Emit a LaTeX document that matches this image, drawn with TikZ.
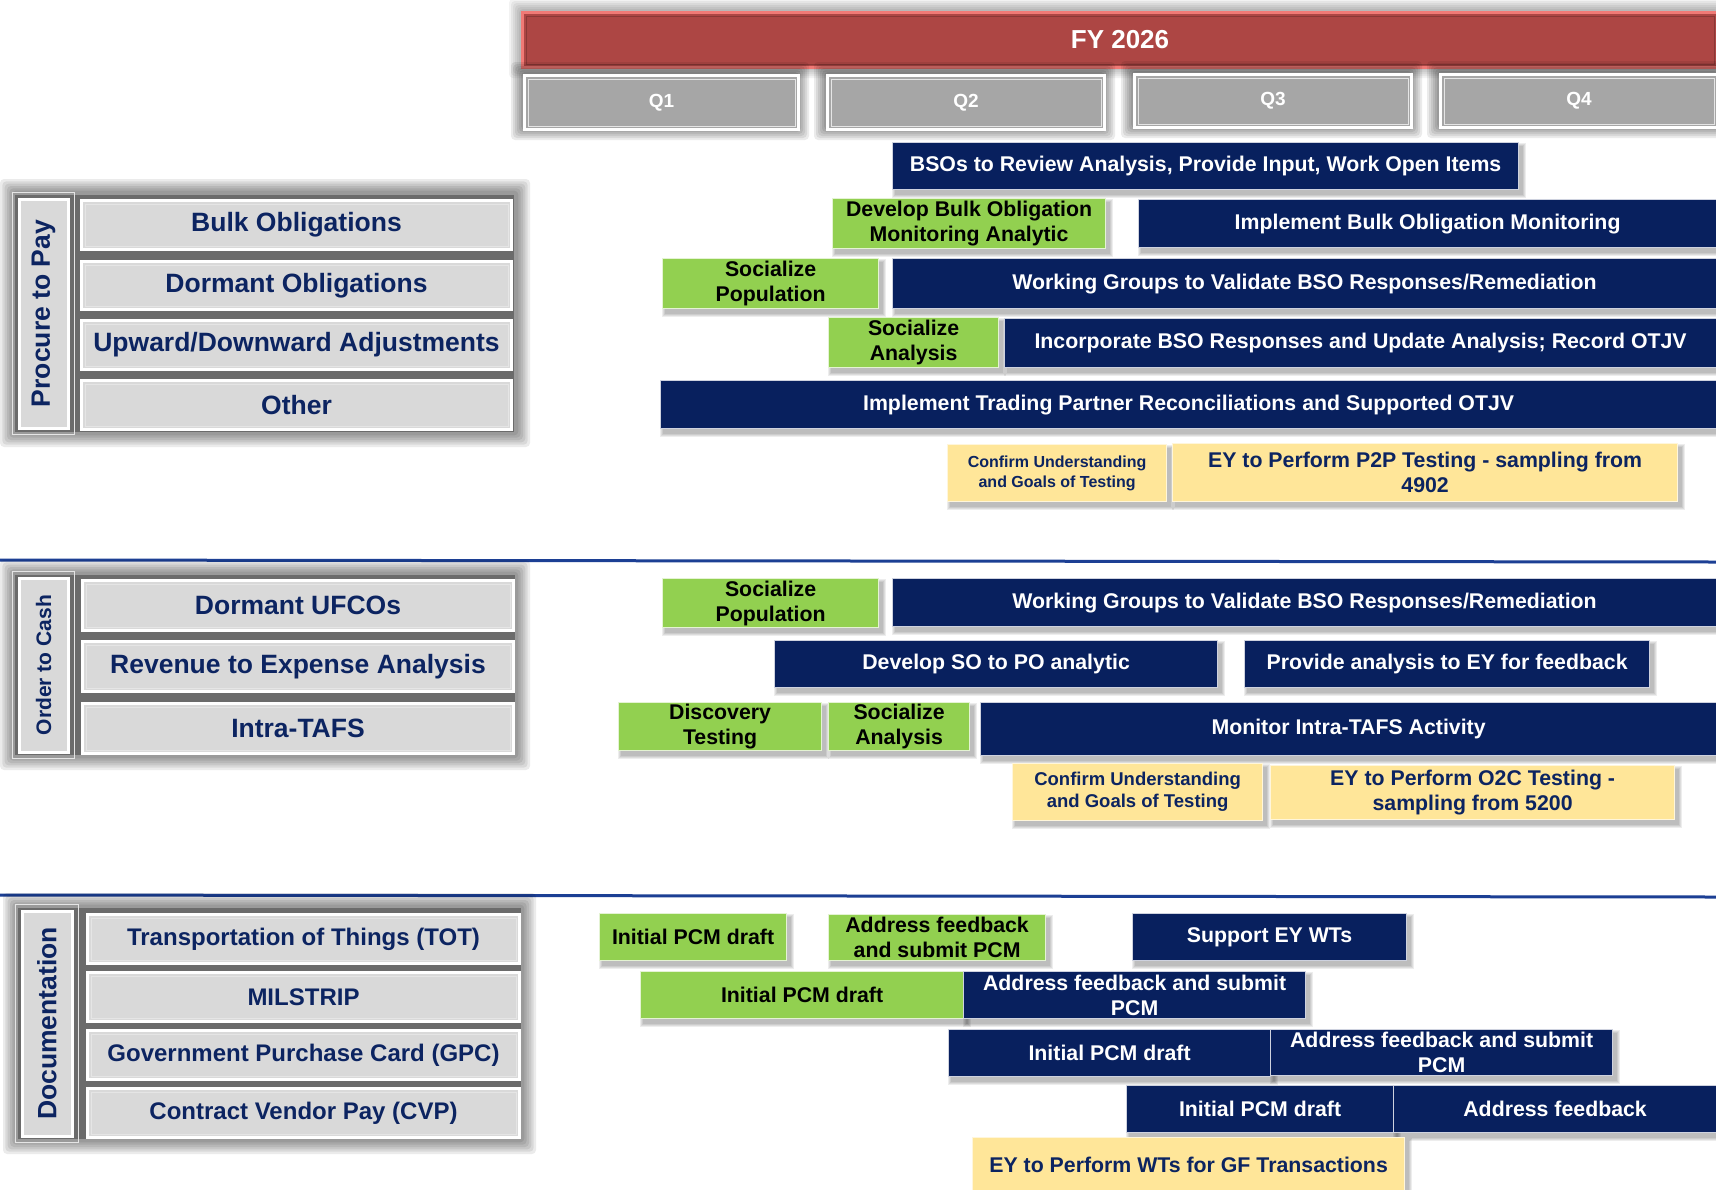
\documentclass[tikz,border=0pt]{standalone}
\usepackage{fontspec}
\setmainfont{Liberation Sans}
\definecolor{navy}{HTML}{08205E}
\definecolor{txtnavy}{HTML}{0C2461}
\definecolor{lgreen}{HTML}{92D050}
\definecolor{lyellow}{HTML}{FFE699}
\definecolor{rowgray}{HTML}{D9D9D9}
\definecolor{qgray}{HTML}{A6A6A6}
\definecolor{fyred}{HTML}{AD4644}
\definecolor{fyrim}{HTML}{F07A76}
\definecolor{sepblue}{HTML}{1C3F94}
\definecolor{framegray}{HTML}{6B6B6B}
\tikzset{
  taskbase/.style={font=\bfseries\fontsize{21.3}{25}\selectfont, inner sep=0pt, align=center, line width=1.2pt},
  navytask/.style={taskbase, fill=navy, draw=white!80!navy, text=white},
  greentask/.style={taskbase, fill=lgreen, draw=white!75!lgreen, text=black},
  yellowtask/.style={taskbase, fill=lyellow, draw=white!65!lyellow, text=txtnavy},
  yellowsmall/.style={yellowtask, font=\bfseries\fontsize{16}{20}\selectfont},
  yellowmid/.style={yellowtask, font=\bfseries\fontsize{18.5}{22}\selectfont},
  rowst/.style={fill=rowgray, draw=white, line width=3pt, inner sep=0pt, text=txtnavy, font=\bfseries\fontsize{26.5}{30}\selectfont},
  rowstsmall/.style={rowst, font=\bfseries\fontsize{24}{28}\selectfont},
  labelst/.style={fill=rowgray, draw=white, line width=3pt, inner sep=0pt, text=txtnavy, font=\bfseries\fontsize{26.5}{30}\selectfont},
  innerline/.style={draw=white!80!gray, line width=0.8pt},
  qst/.style={fill=qgray, draw=white, line width=3pt, inner sep=0pt, text=white, font=\bfseries\fontsize{19}{22}\selectfont},
  fyst/.style={fill=fyred, draw=fyrim, line width=3pt, inner sep=0pt, text=white, font=\bfseries\fontsize{26}{30}\selectfont},
  sepline/.style={draw=sepblue, line width=3pt},
}
\newcommand\glowbox[6]{%
  \foreach \i in {1,...,6}{\fill[black,opacity=#6,rounded corners=4pt] (#1-\i*#5/6,#2-\i*#5/6) rectangle (#3+\i*#5/6,#4+\i*#5/6);}%
}
\newcommand\tsk[7]{%
  \foreach \i in {1,...,4}{\fill[black,opacity=0.07] (#3+4-\i,#4+5-\i) rectangle (#5+4+\i,#6+5+\i);}%
  \node[#2, anchor=north west, minimum width=#5pt-#3pt, minimum height=#6pt-#4pt] (#1) at (#3,#4) {#7};%
}
\newcommand\rowbox[7]{%
  \node[#2, anchor=north west, minimum width=#5pt-#3pt, minimum height=#6pt-#4pt] (#1) at (#3,#4) {#7};%
  \draw[innerline] ([xshift=5pt,yshift=-5pt]#1.north west) rectangle ([xshift=-5pt,yshift=5pt]#1.south east);%
}
\newcommand\sidelabel[6]{%
  \node[labelst, rotate=90, minimum width=#5pt-#3pt, minimum height=#4pt-#2pt] (#1) at ({(#2+#4)/2},{(#3+#5)/2}) {#6};%
  \draw[innerline] ([xshift=5pt,yshift=-5pt]#1.south west) rectangle ([xshift=-5pt,yshift=5pt]#1.north east);%
}
\begin{document}
\begin{tikzpicture}[x=1pt,y=-1pt]
\useasboundingbox (0,0) rectangle (1716,1189);
\fill[white] (0,0) rectangle (1716,1189);

% ---------- header ----------
\glowbox{521}{11}{1716}{66}{12}{0.05}
\node[fyst, anchor=north west, minimum width=1195pt, minimum height=55pt] (fy) at (521,11) {FY 2026};
\draw[draw=fyred!80!black, line width=0.8pt] ([xshift=5pt,yshift=-5pt]fy.north west) rectangle ([xshift=-5pt,yshift=5pt]fy.south east);

\glowbox{523}{74}{797}{128}{12}{0.08}
\glowbox{826}{74}{1103}{128}{12}{0.08}
\glowbox{1133}{73}{1410}{126}{12}{0.08}
\glowbox{1439}{73}{1716}{126}{12}{0.08}
\rowbox{q1}{qst}{523}{74}{797}{128}{Q1}
\rowbox{q2}{qst}{826}{74}{1103}{128}{Q2}
\rowbox{q3}{qst}{1133}{73}{1410}{126}{Q3}
\rowbox{q4}{qst}{1439}{73}{1716}{126}{Q4}

% ---------- separators ----------
\coordinate (s1a) at (0,560); \coordinate (s1b) at (1716,562);
\coordinate (s2a) at (0,895); \coordinate (s2b) at (1716,897);
\draw[sepline] (s1a) -- (s1b);
\draw[sepline] (s2a) -- (s2b);

% ---------- Procure to Pay ----------
\glowbox{14}{193}{516}{433}{14}{0.08}
\fill[framegray] (15,195) rectangle (514,432);
\sidelabel{p2p}{19}{199}{68}{428}{Procure to Pay}
\rowbox{bulk}{rowst}{80}{199}{510}{248}{Bulk Obligations}
\rowbox{dormant}{rowst}{80}{260}{510}{308}{Dormant Obligations}
\rowbox{updown}{rowst}{80}{319}{510}{368}{Upward/Downward Adjustments}
\rowbox{other}{rowst}{80}{379}{510}{428}{Other}

\tsk{bso}{navytask}{892}{142}{1518}{189}{BSOs to Review Analysis,\ Provide Input, Work Open Items}
\tsk{devbulk}{greentask}{832}{198}{1105}{248}{Develop Bulk Obligation\\Monitoring Analytic}
\tsk{implbulk}{navytask}{1138}{199}{1716}{247}{Implement Bulk Obligation Monitoring}
\tsk{socpopA}{greentask}{662}{258}{878}{308}{Socialize\\Population}
\tsk{wgA}{navytask}{892}{258}{1716}{308}{Working Groups to Validate BSO Responses/Remediation}
\tsk{socanA}{greentask}{828}{317}{998}{367}{Socialize\\Analysis}
\tsk{incorp}{navytask}{1004}{318}{1716}{367}{Incorporate BSO Responses and Update Analysis;\ Record OTJV}
\tsk{trading}{navytask}{660}{380}{1716}{428}{Implement Trading Partner Reconciliations and Supported OTJV}
\tsk{confA}{yellowsmall}{947}{444}{1166}{501}{Confirm Understanding\\and Goals of Testing}
\tsk{eyp2p}{yellowtask}{1172}{443}{1677}{501}{EY to Perform P2P Testing - sampling from\\4902}

% ---------- Order to Cash ----------
\glowbox{14}{574}{516}{756}{14}{0.08}
\fill[framegray] (15,575) rectangle (515,755);
\sidelabel{o2c}{19}{578}{68}{752}{\fontsize{21}{24}\selectfont Order to Cash}
\rowbox{ufco}{rowst}{81}{579}{512}{629}{Dormant UFCOs}
\rowbox{rev}{rowst}{81}{640}{512}{690}{Revenue to Expense Analysis}
\rowbox{intra}{rowst}{81}{702}{512}{752}{Intra-TAFS}

\tsk{socpopB}{greentask}{662}{578}{878}{627}{Socialize\\Population}
\tsk{wgB}{navytask}{892}{578}{1716}{626}{Working Groups to Validate BSO Responses/Remediation}
\tsk{devso}{navytask}{774}{640}{1217}{687}{Develop SO to PO analytic}
\tsk{provide}{navytask}{1244}{640}{1649}{687}{Provide analysis to EY for feedback}
\tsk{disc}{greentask}{618}{702}{821}{750}{Discovery\\Testing}
\tsk{socanB}{greentask}{828}{702}{969}{750}{Socialize\\Analysis}
\tsk{monitor}{navytask}{980}{702}{1716}{755}{Monitor Intra-TAFS Activity}
\tsk{confB}{yellowmid}{1012}{763}{1262}{820}{Confirm Understanding\\and Goals of Testing}
\tsk{eyo2c}{yellowtask}{1270}{765}{1674}{819}{EY to Perform O2C Testing -\\sampling from 5200}

% ---------- Documentation ----------
\glowbox{17}{907}{522}{1140}{14}{0.08}
\fill[framegray] (18,908) rectangle (521,1139);
\sidelabel{doc}{22}{911}{72}{1136}{Documentation}
\rowbox{tot}{rowstsmall}{86}{913}{518}{962}{Transportation of Things (TOT)}
\rowbox{milstrip}{rowstsmall}{86}{971}{518}{1020}{MILSTRIP}
\rowbox{gpc}{rowstsmall}{86}{1029}{518}{1078}{Government Purchase Card (GPC)}
\rowbox{cvp}{rowstsmall}{86}{1087}{518}{1136}{Contract Vendor Pay (CVP)}

\tsk{ipdA}{greentask}{599}{913}{786}{960}{Initial PCM draft}
\tsk{afA}{greentask}{828}{914}{1045}{960}{Address feedback\\and submit PCM}
\tsk{support}{navytask}{1132}{913}{1406}{960}{Support EY WTs}
\tsk{ipdB}{greentask}{640}{971}{963}{1018}{Initial PCM draft}
\tsk{afB}{navytask}{963}{971}{1305}{1018}{Address feedback and submit\\PCM}
\tsk{ipdC}{navytask}{948}{1029}{1270}{1076}{Initial PCM draft}
\tsk{afC}{navytask}{1270}{1029}{1612}{1075}{Address feedback and submit\\PCM}
\tsk{ipdD}{navytask}{1126}{1085}{1393}{1132}{Initial PCM draft}
\tsk{afD}{navytask}{1393}{1085}{1716}{1132}{Address feedback}
\tsk{eywt}{yellowtask}{972}{1137}{1404}{1192}{EY to Perform WTs for GF Transactions}
\end{tikzpicture}
\end{document}
